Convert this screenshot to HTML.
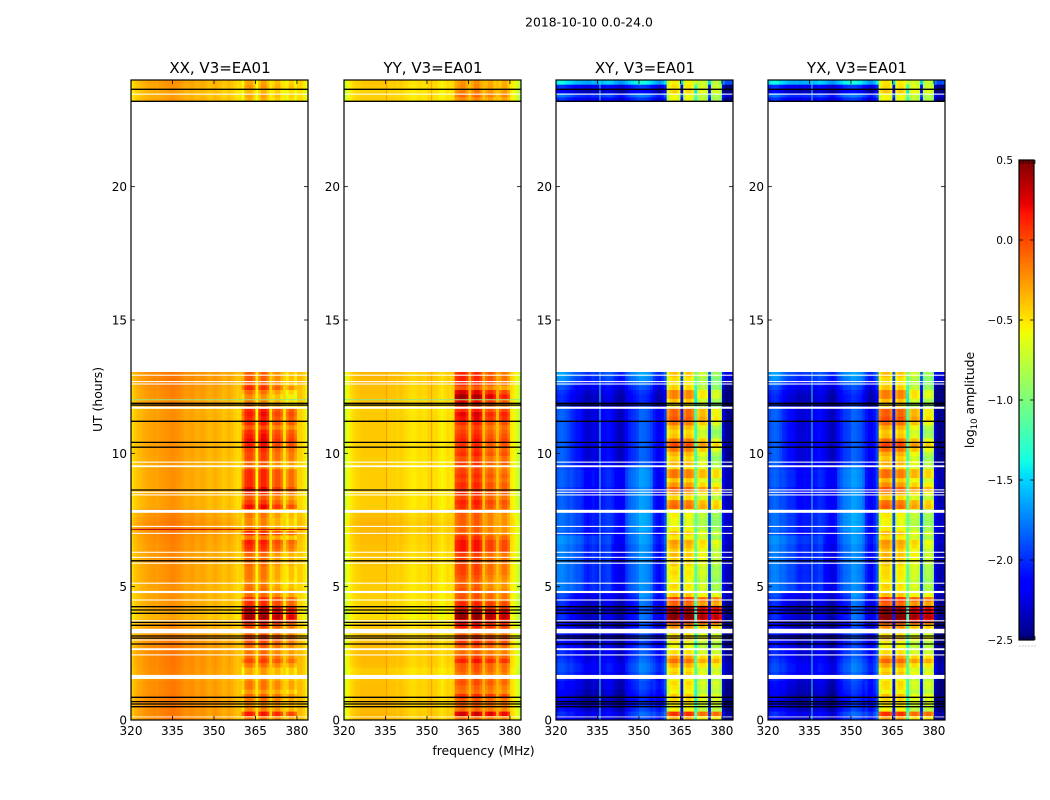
<!DOCTYPE html>
<html lang="en">
<head>
<meta charset="utf-8">
<title>2018-10-10 0.0-24.0</title>
<style>
html,body{margin:0;padding:0;background:#fff;width:1050px;height:800px;overflow:hidden}
svg{display:block}
text{font-family:"DejaVu Sans","Liberation Sans",sans-serif;fill:#000}
</style>
</head>
<body>
<svg id="chart" xmlns="http://www.w3.org/2000/svg" width="1050" height="800" viewBox="0 0 1050 800">
<rect x="0" y="0" width="1050" height="800" fill="#fff"/>
<text x="589" y="26.5" font-size="12.4" text-anchor="middle">2018-10-10 0.0-24.0</text>
<text x="483.5" y="755" font-size="12.4" text-anchor="middle">frequency (MHz)</text>
<text transform="translate(102,399.5) rotate(-90)" font-size="12.4" text-anchor="middle">UT (hours)</text>
<text transform="translate(974,400) rotate(-90)" font-size="12.4" text-anchor="middle">log<tspan dy="3" font-size="8.5">10</tspan><tspan dy="-3"> amplitude</tspan></text>
</svg>
<script>
// Axis ticks
const freqTicks = [320, 335, 350, 365, 380];
const hourTicks = [0, 5, 10, 15, 20];
const colorTicks = [0.5, 0.0, -0.5, -1.0, -1.5, -2.0, -2.5];
const panelTitles = ['XX, V3=EA01', 'YY, V3=EA01', 'XY, V3=EA01', 'YX, V3=EA01'];

// Observation blocks in hours: [start, end, rows]
const obsBlocks = [[0, 13.05, 79], [23.2, 24, 5]];

// Sub-band id of each 1 MHz channel (320..383), -1 when outside a sub-band
const bandMap = [
-1,-1,-1,-1,-1,-1,-1,-1,-1,-1,-1,-1,-1,-1,-1,-1,-1,-1,-1,-1,
-1,-1,-1,-1,-1,-1,-1,-1,-1,-1,-1,-1,-1,-1,-1,-1,-1,-1,-1,-1,
0,0,0,0,0,-1,1,1,1,1,-1,2,2,2,2,-1,3,3,3,3,-1,-1,-1,-1];

// Channel profiles: log10 level outside sub-bands, relative offset inside
const xxProfile = [
-.46,-.40,-.36,-.34,-.32,-.30,-.28,-.27,-.26,-.27,
-.25,-.24,-.23,-.22,-.20,-.20,-.22,-.23,-.25,-.28,
-.29,-.27,-.27,-.31,-.31,-.29,-.29,-.33,-.35,-.33,
-.30,-.33,-.35,-.39,-.37,-.33,-.37,-.41,-.45,-.43,
-.25,0,.04,.04,-.08,-.55,-.08,.04,.04,-.08,
-.48,-.08,.02,.02,-.12,-.48,-.12,.02,.02,-.12,
-.42,-.42,-.48,-.58];
const yyProfile = [
-.72,-.58,-.50,-.46,-.43,-.42,-.40,-.40,-.40,-.40,
-.40,-.40,-.40,-.40,-.40,-.40,-.42,-.42,-.42,-.44,
-.41,-.44,-.46,-.48,-.50,-.50,-.48,-.46,-.48,-.48,
-.44,-.44,-.46,-.46,-.50,-.54,-.50,-.46,-.48,-.46,
-.05,0,.04,.04,-.06,-.36,-.06,.04,.04,-.06,
-.36,-.06,.02,.02,-.10,-.36,-.10,.02,.02,-.10,
-.50,-.55,-.65,-.78];
const xyProfile = [
-1.92,-1.88,-1.88,-1.92,-1.97,-1.98,-2.03,-2.08,-2.08,-2.12,
-2.12,-2.16,-2.12,-2.08,-2.12,-2.12,-2.08,-2.04,-2.00,-2.00,
-2.04,-2.12,-2.16,-2.20,-2.16,-2.08,-2.00,-1.95,-1.92,-1.88,
-1.85,-1.86,-1.88,-1.92,-1.98,-2.06,-2.14,-2.18,-2.10,-1.95,
-.15,0,.05,.05,-.10,-2.00,-.05,.05,.05,-.05,
-1.20,-.10,0,0,-.10,-2.00,-.10,0,0,-.15,
-2.20,-2.40,-2.42,-2.40];
const yxProfile = [
-1.96,-1.90,-1.88,-1.90,-1.96,-2.00,-2.04,-2.10,-2.10,-2.12,
-2.10,-2.14,-2.12,-2.10,-2.12,-2.12,-2.08,-2.06,-2.00,-2.02,
-2.06,-2.12,-2.18,-2.20,-2.14,-2.06,-2.00,-1.92,-1.90,-1.88,
-1.85,-1.86,-1.90,-1.92,-2.00,-2.06,-2.16,-2.18,-2.08,-1.92,
-.10,.02,.05,.05,-.08,-2.00,-.05,.05,.05,-.05,
-1.20,-.08,0,0,-.10,-2.00,-.10,0,0,-.12,
-2.25,-2.42,-2.42,-2.38];

// Sub-band offsets
const xxSubBand = [-.08, -.06, -.14, -.20];
const yySubBand = [-.10, -.08, -.15, -.16];
const xySubBand = [.08, .05, -.05, -.10];

// Row levels inside the sub-bands, from 0h upward (79 rows, then 5 rows at the top)
const xxBandRow = [
-.10,.20,-.15,-.15,-.10,-.05,-.20,-.10,-.10,-.20,
-.25,-.25,-.10,.05,-.05,-.10,-.05,0,.10,0,
0,.05,.30,.45,.35,.30,.10,.10,-.10,-.10,
-.15,-.20,-.15,-.15,-.15,-.10,-.10,-.10,.05,.10,
.15,-.15,.10,-.20,-.20,-.20,-.15,-.15,.20,.05,
-.05,.05,.20,.10,.10,.10,.10,-.10,-.10,0,
0,.05,.15,.20,.15,.10,-.05,.10,.10,.15,
.10,-.20,-.20,-.25,-.15,.05,-.10,-.10,-.10,
-.25,-.20,-.25,-.15,-.20];
const yyBandRow = [
-.05,.35,-.05,0,0,.15,-.05,-.02,.05,0,
-.05,0,.02,.20,.05,-.05,0,.10,.15,0,
.15,.20,.30,.50,.45,.20,.15,0,0,0,
-.05,-.05,0,.05,.05,.05,.05,.05,.20,.20,
.20,.10,-.05,-.05,-.05,-.05,-.05,0,.10,.15,
.05,.10,.10,.12,.05,.10,.05,0,.05,0,
.10,.05,.10,.15,.10,.05,0,.10,.20,.25,
.12,.05,.20,.40,.25,-.05,.10,.10,.10,
-.10,0,-.05,-.10,-.12];
const xyBandRow = [
-.45,-.05,-.70,-.65,-.60,-.55,-.70,-.65,-.60,-.70,
-.55,-.60,-.45,-.25,-.40,-.60,-.70,-.70,-.50,-.60,
-.45,-.30,.30,.45,.35,.30,-.20,-.05,-.50,-.65,
-.60,-.70,-.65,-.60,-.65,-.55,-.55,-.50,-.55,-.45,
-.40,-.65,-.55,-.70,-.75,-.75,-.70,-.65,-.25,-.30,
-.60,-.45,-.20,-.40,-.55,-.30,-.30,-.60,-.55,-.65,
-.55,-.35,-.20,-.35,-.60,-.65,-.55,-.35,-.25,-.30,
-.30,-.70,-.60,-.40,-.40,-.65,-.70,-.70,-.60,
-.70,-.70,-.55,-.60,-.65];
const yxBandRow = [
-.42,-.05,-.70,-.62,-.60,-.52,-.70,-.62,-.60,-.70,
-.52,-.58,-.42,-.22,-.40,-.60,-.68,-.70,-.48,-.60,
-.42,-.28,.32,.48,.38,.32,-.18,-.02,-.48,-.62,
-.58,-.68,-.62,-.60,-.62,-.55,-.52,-.48,-.52,-.42,
-.38,-.62,-.52,-.68,-.72,-.72,-.68,-.62,-.22,-.28,
-.58,-.42,-.18,-.38,-.52,-.28,-.28,-.58,-.52,-.62,
-.52,-.32,-.18,-.32,-.58,-.62,-.52,-.32,-.22,-.28,
-.28,-.68,-.58,-.38,-.38,-.62,-.68,-.68,-.58,
-.68,-.68,-.52,-.58,-.62];

// Row offsets outside the sub-bands
const xxBaseRow = [
.06,.06,.06,.06,.06,.06,.05,.05,.05,.02,
.05,.05,.06,.06,.06,.06,.06,.05,.05,.02,
.02,0,-.05,-.07,-.07,-.05,-.02,-.02,-.02,-.02,
-.02,0,0,0,0,0,.01,.01,.02,.02,
.03,.04,.06,.06,.06,.05,.03,.03,-.03,-.03,
-.03,-.03,-.03,-.02,-.02,-.02,-.02,-.02,-.02,-.02,
-.01,-.01,-.01,-.01,-.01,-.01,-.01,-.01,-.01,-.01,
-.02,-.01,.02,.03,.03,.04,.06,.06,.06,
-.04,-.06,-.06,-.03,-.02];
const yyBaseRow = [
.05,.05,.04,.04,.04,.03,.03,.03,.03,.01,
-.01,-.01,.03,.04,.04,.04,.04,.03,.03,.01,
.01,0,-.05,-.07,-.07,-.05,-.03,-.03,-.02,-.02,
-.02,-.01,-.01,-.01,-.01,0,.01,.01,.02,.02,
.03,.03,.05,.05,.06,.05,.03,.02,-.02,-.02,
-.02,-.02,-.02,-.02,-.02,-.02,-.02,-.01,-.02,-.02,
-.01,-.01,-.01,-.01,-.01,-.01,-.01,-.01,-.01,-.01,
-.02,-.01,.02,.02,.03,.03,.05,.05,.05,
-.02,-.03,-.03,-.01,0];
const xyBaseRow = [
-.10,0,-.10,-.15,-.20,-.20,-.15,-.10,-.10,-.05,
0,.05,.05,0,-.05,-.05,-.10,-.15,-.10,-.10,
-.10,-.15,-.10,-.05,-.10,-.10,-.05,0,.05,.05,
.05,.05,.05,.05,.05,.05,.05,.05,.05,.05,
.10,.10,.05,.10,.10,.10,.10,.10,.05,.05,
.05,.05,0,.05,.05,.05,.05,0,-.05,-.05,
-.05,-.05,-.05,-.05,-.05,-.05,-.05,-.05,-.05,-.05,
-.05,-.15,-.22,-.22,-.18,-.10,0,.10,.15,
-.10,.10,-.25,-.10,.50];
const yxBaseRow = [
-.10,0,-.12,-.15,-.18,-.20,-.15,-.12,-.10,-.05,
0,.05,.04,0,-.05,-.06,-.10,-.14,-.10,-.10,
-.10,-.15,-.12,-.05,-.10,-.10,-.05,0,.05,.05,
.04,.05,.05,.04,.05,.05,.05,.04,.05,.05,
.10,.10,.05,.10,.10,.10,.10,.10,.05,.05,
.05,.05,0,.05,.05,.04,.05,0,-.05,-.05,
-.05,-.05,-.06,-.05,-.05,-.05,-.06,-.05,-.05,-.05,
-.05,-.15,-.22,-.22,-.18,-.10,0,.10,.15,
-.10,.10,-.25,-.10,.50];

// Slow drift between groups of hours
const driftHourEdges = [0, 1.54, 3.42, 4.8, 6.9, 9.5, 11.7, 13.05, 24];
// Cross-hand background drift, one row per hour group, eight 5 MHz columns from 320 MHz
const crossDriftRows = [
[-.10,-.05,-.10,-.10,-.10,0,.06,.18],
[-.05,0,-.10,-.10,-.10,0,.08,.10],
[-.05,-.10,-.15,-.15,-.15,-.10,.14,0],
[.10,.15,.05,0,-.10,.05,.12,0],
[0,.05,-.05,-.05,-.05,.10,.15,-.05],
[.10,.05,-.10,-.05,-.10,0,.08,.05],
[.10,.05,0,0,0,.05,.08,0],
[0,0,0,0,0,0,0,0]];
// Sub-band drift, one row per hour group, four sub-bands
const parallelBandDrift = [
[0,0,.03,0],[0,.03,.03,.02],[.03,.03,.03,0],[.05,.03,-.03,-.05],
[.05,.05,0,-.03],[.05,.08,0,.03],[.10,.05,0,-.10],[-.05,-.05,-.05,-.05]];
const crossBandDrift = [
[.02,.05,0,.05],[.02,.03,0,.02],[0,0,0,0],[.03,0,0,-.10],
[.05,.03,0,-.05],[.10,.10,0,-.15],[.10,.10,-.05,-.15],[0,0,0,0]];

// Narrow interference lines, in MHz
const crossRfiFreqs = [335.9];
const yyRfiFreqs = [335.4, 351.7];

// Flagged hours
const whiteGapHours = [
[.10,.13],[1.54,1.69],[2.42,2.46],[2.62,2.69],[2.98,3.02],[3.25,3.42],[3.70,3.74],
[4.48,4.52],[4.76,4.84],[5.11,5.15],[5.86,5.90],[6.08,6.12],[6.27,6.31],[6.98,7.02],
[7.24,7.28],[7.77,7.88],[8.42,8.46],[8.52,8.56],[9.48,9.55],[9.65,9.69],[11.67,11.75],
[12.58,12.62],[12.67,12.71],[12.91,12.95],[23.45,23.49]];
const crossExtraGapHours = [[8.61,8.65]];
const blackLineHours = [.50,.60,.69,.85,2.85,3.07,3.15,3.55,3.66,4.00,4.125,4.25,5.97,10.23,10.41,11.20,11.81,11.875,23.20,23.65];
const parallelOnlyBlackHours = [8.625];
const accentGreenHours = [12.01];
const accentRedHours = [7.15];

// Scales and geometry
const panelLeft = [131, 344, 556, 768];
const panelWidth = 177, axTop = 80, axBottom = 720;
const freqMin = 320, freqMax = 384, hourMin = 0, hourMax = 24;
const cbLeft = 1019, cbWidth = 15, cbTop = 160, cbBottom = 640, cbMin = -2.5, cbMax = 0.5;
function xScale(panel, mhz) { return panelLeft[panel] + (mhz - freqMin) / (freqMax - freqMin) * panelWidth; }
function yScale(h) { return axBottom - (h - hourMin) / (hourMax - hourMin) * (axBottom - axTop); }
function cScale(v) { return cbBottom - (v - cbMin) / (cbMax - cbMin) * (cbBottom - cbTop); }
function driftGroup(h) {
  for (let i = 1; i < driftHourEdges.length; i++) if (h < driftHourEdges[i]) return i - 1;
  return driftHourEdges.length - 2;
}

const jetR = [[0,0],[.35,0],[.66,1],[.89,1],[1,.5]];
const jetG = [[0,0],[.125,0],[.375,1],[.64,1],[.91,0],[1,0]];
const jetB = [[0,.5],[.11,1],[.34,1],[.65,0],[1,0]];
function seg(s, t) {
  for (let i = 1; i < s.length; i++) {
    if (t <= s[i][0]) {
      const a = s[i - 1], b = s[i];
      return a[1] + (b[1] - a[1]) * (t - a[0]) / (b[0] - a[0]);
    }
  }
  return s[s.length - 1][1];
}
function jet(v) {
  const t = Math.max(0, Math.min(1, (v - cbMin) / (cbMax - cbMin)));
  return 'rgb(' + Math.round(255 * seg(jetR, t)) + ',' + Math.round(255 * seg(jetG, t)) + ',' + Math.round(255 * seg(jetB, t)) + ')';
}

const svg = document.getElementById('chart');
const NS = 'http://www.w3.org/2000/svg';
function mk(tag, parent, geom) {
  const el = document.createElementNS(NS, tag);
  for (const k in geom) el.setAttribute(k, geom[k]);
  parent.appendChild(el);
  return el;
}

const panelProfiles = [xxProfile, yyProfile, xyProfile, yxProfile];
const panelBandRows = [xxBandRow, yyBandRow, xyBandRow, yxBandRow];
const panelBaseRows = [xxBaseRow, yyBaseRow, xyBaseRow, yxBaseRow];
const panelSubBands = [xxSubBand, yySubBand, xySubBand, xySubBand];

panelTitles.forEach(function (title, p) {
  const g = mk('g', svg, {});
  
  
  const isCross = p >= 2;

  // heatmap cells
  let rowIndex = 0;
  obsBlocks.forEach(function (block) {
    const step = (block[1] - block[0]) / block[2];
    for (let r = 0; r < block[2]; r++, rowIndex++) {
      const h0 = block[0] + r * step, h1 = h0 + step;
      const grp = driftGroup((h0 + h1) / 2);
      for (let ch = 0; ch < bandMap.length; ch++) {
        const sb = bandMap[ch];
        let v;
        if (sb >= 0) {
          const drift = isCross ? crossBandDrift[grp][sb] : parallelBandDrift[grp][sb];
          v = panelBandRows[p][rowIndex] + panelSubBands[p][sb] + panelProfiles[p][ch] + drift;
        } else {
          v = panelProfiles[p][ch] + panelBaseRows[p][rowIndex];
          if (isCross && ch < 40) v += crossDriftRows[grp][Math.floor(ch / 5)];
        }
        const x0 = xScale(p, freqMin + ch), x1 = xScale(p, freqMin + ch + 1);
        const cell = mk('rect', g, {x: x0.toFixed(2), y: yScale(h1).toFixed(2), width: (x1 - x0 + .4).toFixed(2), height: (yScale(h0) - yScale(h1) + .4).toFixed(2), fill: jet(v)});
        
        
      }
    }
  });

  const x0 = panelLeft[p], w = panelWidth;

  // narrow interference lines
  const rfi = isCross ? crossRfiFreqs : (p === 1 ? yyRfiFreqs : []);
  rfi.forEach(function (f) {
    obsBlocks.forEach(function (block) {
      const x = xScale(p, f).toFixed(2);
      const el = mk('line', g, {x1: x, x2: x, y1: yScale(block[0]).toFixed(2), y2: yScale(block[1]).toFixed(2), stroke: isCross ? '#2fdcd0' : '#ff9a00', 'stroke-width': 1});
      
      
    });
  });

  // white flagged gaps
  const gaps = isCross ? whiteGapHours.concat(crossExtraGapHours) : whiteGapHours;
  gaps.forEach(function (gap) {
    const el = mk('rect', g, {x: x0, y: yScale(gap[1]).toFixed(2), width: w, height: (yScale(gap[0]) - yScale(gap[1])).toFixed(2), fill: '#fff'});
    
    
  });

  // black flagged lines
  const blacks = isCross ? blackLineHours : blackLineHours.concat(parallelOnlyBlackHours);
  blacks.forEach(function (h) {
    const el = mk('line', g, {x1: x0, x2: x0 + w, y1: yScale(h).toFixed(2), y2: yScale(h).toFixed(2), stroke: '#000', 'stroke-width': 1.3});
    
    
  });

  if (!isCross) {
    accentGreenHours.forEach(function (h) {
      const el = mk('line', g, {x1: x0, x2: x0 + w, y1: yScale(h).toFixed(2), y2: yScale(h).toFixed(2), stroke: '#8fe88a', 'stroke-width': 1});
      
      
    });
  }
  if (p === 0) {
    accentRedHours.forEach(function (h) {
      const el = mk('line', g, {x1: x0, x2: x0 + w, y1: yScale(h).toFixed(2), y2: yScale(h).toFixed(2), stroke: '#b00000', 'stroke-width': 1});
      
      
    });
  }

  // frame
  const frame = mk('rect', g, {x: x0, y: axTop, width: w, height: axBottom - axTop, fill: 'none', stroke: '#000', 'stroke-width': 1.2});
  
  

  // x ticks
  freqTicks.forEach(function (f) {
    const x = xScale(p, f).toFixed(2);
    const t1 = mk('line', g, {x1: x, x2: x, y1: axBottom, y2: axBottom - 4, stroke: '#000', 'stroke-width': .8});
    
    
    const t2 = mk('line', g, {x1: x, x2: x, y1: axTop, y2: axTop + 4, stroke: '#000', 'stroke-width': .8});
    
    
    const lab = mk('text', g, {x: x, y: axBottom + 15, 'font-size': 12, 'text-anchor': 'middle'});
    lab.textContent = String(f);
    
    
  });

  // y ticks
  hourTicks.forEach(function (h) {
    const y = yScale(h).toFixed(2);
    const t1 = mk('line', g, {x1: x0, x2: x0 + 4, y1: y, y2: y, stroke: '#000', 'stroke-width': .8});
    
    
    const t2 = mk('line', g, {x1: x0 + w, x2: x0 + w - 4, y1: y, y2: y, stroke: '#000', 'stroke-width': .8});
    
    
    const lab = mk('text', g, {x: x0 - 4, y: +y + 4.5, 'font-size': 12, 'text-anchor': 'end'});
    lab.textContent = String(h);
    
    
  });

  const ttl = mk('text', g, {x: x0 + w / 2 + .5, y: 73, 'font-size': 15, 'text-anchor': 'middle'});
  ttl.textContent = title;
  
  
});

// Colorbar
const cb = mk('g', svg, {});


for (let i = 0; i < 240; i++) {
  const v0 = cbMin + (cbMax - cbMin) * i / 240, v1 = cbMin + (cbMax - cbMin) * (i + 1) / 240;
  const s = mk('rect', cb, {x: cbLeft, y: cScale(v1).toFixed(2), width: cbWidth, height: (cScale(v0) - cScale(v1) + .4).toFixed(2), fill: jet((v0 + v1) / 2)});
  
  
}
const cbFrame = mk('rect', cb, {x: cbLeft, y: cbTop, width: cbWidth, height: cbBottom - cbTop, fill: 'none', stroke: '#000', 'stroke-width': 1.2});


colorTicks.forEach(function (v) {
  const y = cScale(v).toFixed(2);
  const a = mk('line', cb, {x1: cbLeft, x2: cbLeft + 4, y1: y, y2: y, stroke: '#000', 'stroke-width': .8});
  
  
  const b = mk('line', cb, {x1: cbLeft + cbWidth, x2: cbLeft + cbWidth - 4, y1: y, y2: y, stroke: '#000', 'stroke-width': .8});
  
  
  const lab = mk('text', cb, {x: cbLeft - 6, y: +y + 4, 'font-size': 10.5, 'text-anchor': 'end'});
  lab.textContent = (v < 0 ? '\u2212' : '') + Math.abs(v).toFixed(1);
  
  
});
for (let i = 0; i < 6; i++) {
  const x = cbLeft + 1 + i * 3;
  const top = mk('line', cb, {x1: x, x2: x, y1: cbTop, y2: cbTop + 4, stroke: '#000', 'stroke-width': .7});
  
  
  const bot = mk('line', cb, {x1: x, x2: x, y1: cbBottom, y2: cbBottom - 4, stroke: '#000', 'stroke-width': .7});
  
  
  const dot = mk('rect', cb, {x: x - .5, y: 645.5, width: 1, height: 1, fill: '#999'});
  
  
}
</script>
</body>
</html>
